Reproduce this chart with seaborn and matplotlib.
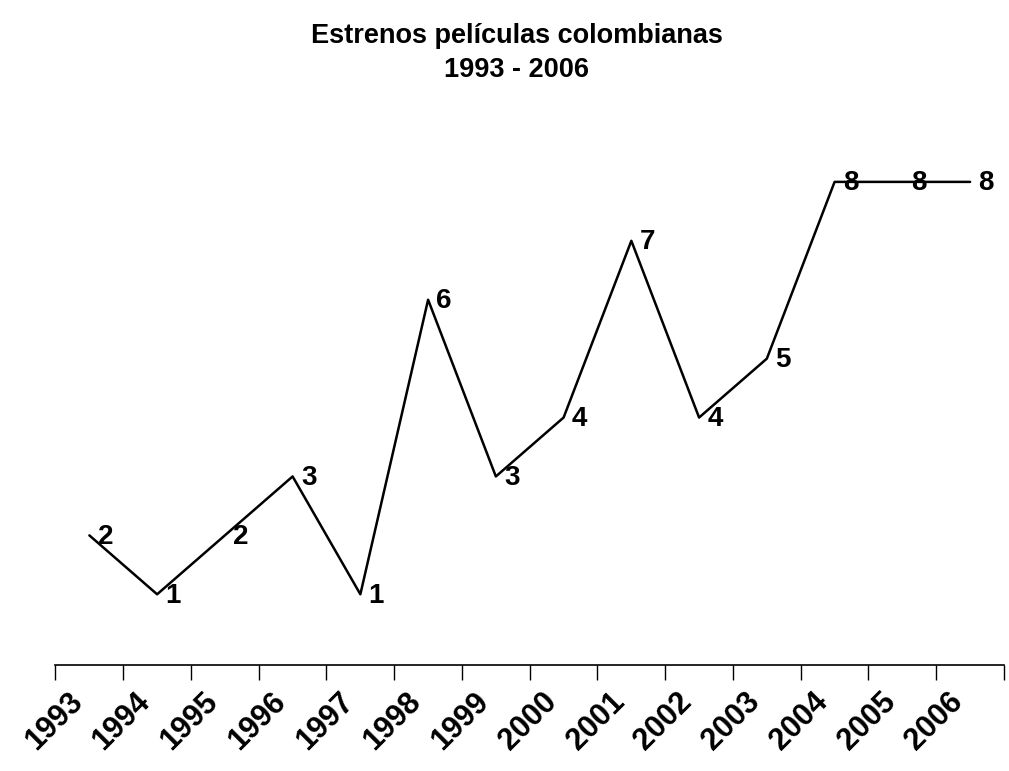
import matplotlib
matplotlib.use('Agg')
import matplotlib.pyplot as plt
import matplotlib.transforms as mtransforms
import pandas as pd
import seaborn as sns

# Data
years = ['1993', '1994', '1995', '1996', '1997', '1998', '1999',
         '2000', '2001', '2002', '2003', '2004', '2005', '2006']
estrenos = [2, 1, 2, 3, 1, 6, 3, 4, 7, 4, 5, 8, 8, 8]

df = pd.DataFrame({'pos': range(len(years)), 'anio': years, 'estrenos': estrenos})

sns.set_style('white')
plt.rcParams['font.family'] = ['Liberation Sans', 'DejaVu Sans']
plt.rcParams['font.weight'] = 'bold'
plt.rcParams['text.color'] = 'black'
plt.rcParams['xtick.color'] = 'black'

fig = plt.figure(figsize=(10.09, 7.71), dpi=100)
ax = fig.add_axes([0.055, 0.1375, 0.94, 0.703])

sns.lineplot(data=df, x='pos', y='estrenos', color='black', linewidth=1.8, ax=ax)

# value labels to the right of each point
for p, v in zip(df['pos'], df['estrenos']):
    ax.annotate(str(v), (p, v), xytext=(6, -1), textcoords='offset points',
                ha='left', va='center', fontsize=20, fontweight='bold', color='black')

ax.set_xlim(-0.5, len(years) - 0.5)
ax.set_ylim(-0.2, 9)

# ticks on category boundaries, labels at category centres
ax.set_xticks([i - 0.5 for i in range(len(years) + 1)], minor=True)
ax.set_xticks(list(df['pos']))
ax.set_xticklabels(years, rotation=45, ha='right', rotation_mode='anchor',
                   fontsize=22, fontweight='bold', color='black')
ax.tick_params(axis='x', which='major', length=0, pad=16)
ax.tick_params(axis='x', which='minor', length=11, width=1, direction='out',
               bottom=True, color='black')
shift = mtransforms.ScaledTranslation(-22 / 100, 0, fig.dpi_scale_trans)
for lbl in ax.get_xticklabels():
    lbl.set_transform(lbl.get_transform() + shift)

ax.set_yticks([])
ax.set_xlabel('')
ax.set_ylabel('')
for s in ['top', 'right', 'left']:
    ax.spines[s].set_visible(False)
ax.spines['bottom'].set_color('black')
ax.spines['bottom'].set_linewidth(1.2)

fig.text(0.512, 0.97, 'Estrenos películas colombianas\n1993 - 2006',
         ha='center', va='top', fontsize=19.5, fontweight='bold',
         linespacing=1.4, color='black')

fig.savefig('out.png', dpi=100)
